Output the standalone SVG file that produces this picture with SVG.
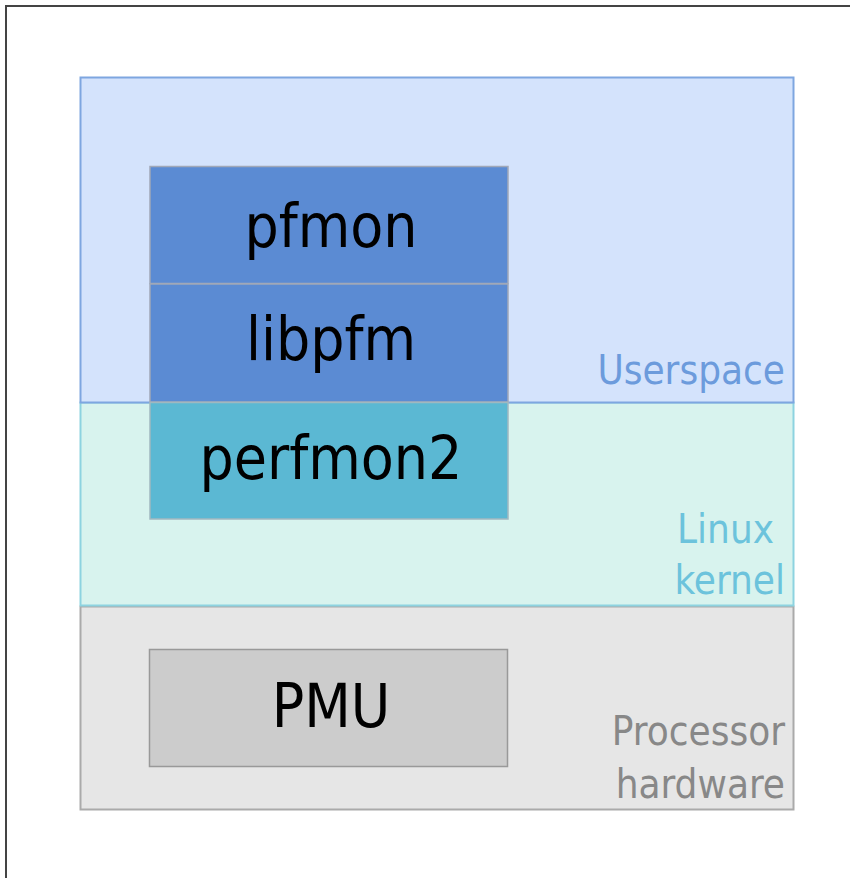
<svg xmlns="http://www.w3.org/2000/svg" width="850" height="878" viewBox="0 0 850 878">
<style>
.big{font-family:"DejaVu Sans Condensed","DejaVu Sans",sans-serif;font-size:60px;fill:#000;text-anchor:middle}
.lab{font-family:"DejaVu Sans Condensed","DejaVu Sans",sans-serif;font-size:40px;text-anchor:end}
</style>
<rect x="0" y="0" width="850" height="878" fill="#fff"/>
<rect x="6" y="6" width="900" height="900" fill="none" stroke="#444" stroke-width="2"/>
<g id="hardware">
<rect x="80.5" y="606.5" width="713" height="203" fill="#e6e6e6" stroke="#aaa" stroke-width="2"/>
<text class="lab" x="785" y="745" fill="#888">Processor</text>
<text class="lab" x="785" y="798" fill="#888">hardware</text>
</g>
<g id="kernel">
<rect x="80.5" y="402.5" width="713" height="203" fill="#d8f3ee" stroke="#8dd3e0" stroke-width="2"/>
<text class="lab" x="774" y="543" fill="#6cc3dc">Linux</text>
<text class="lab" x="785" y="594" fill="#6cc3dc">kernel</text>
</g>
<g id="userspace">
<rect x="80.5" y="77.5" width="713" height="325" fill="#d4e3fc" stroke="#7ea6e0" stroke-width="2"/>
<text class="lab" x="785" y="384" fill="#6c9bdc">Userspace</text>
</g>
<g id="pfmon">
<rect x="150" y="166.5" width="358" height="117" fill="#5b8bd3" stroke="#a0a8b8" stroke-width="1.5"/>
<text class="big" x="331" y="247">pfmon</text>
</g>
<g id="libpfm">
<rect x="150" y="284" width="358" height="118" fill="#5b8bd3" stroke="#a0a8b8" stroke-width="1.5"/>
<text class="big" x="331" y="360">libpfm</text>
</g>
<g id="perfmon2">
<rect x="150" y="402.5" width="358" height="116.5" fill="#5bb8d3" stroke="#a0b8c0" stroke-width="1.5"/>
<text class="big" x="331" y="479">perfmon2</text>
</g>
<g id="pmu">
<rect x="149.5" y="649.5" width="358" height="117" fill="#cccccc" stroke="#999" stroke-width="1.5"/>
<text class="big" x="331" y="727">PMU</text>
</g>
<g id="connectors"></g>
</svg>
